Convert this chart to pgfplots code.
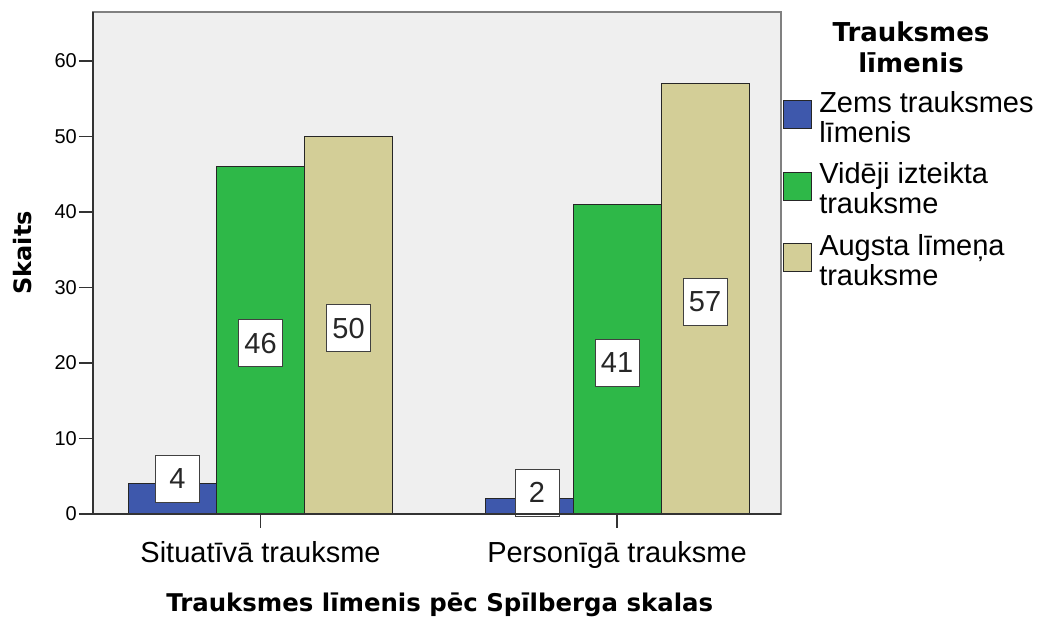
\documentclass[border=0pt]{standalone}
\usepackage{fontspec}
\setmainfont{Liberation Sans}
\newfontfamily\titlefont{DejaVu Sans}
\usepackage{pgfplots}
\usepackage{pgfplotstable}
\pgfplotsset{compat=1.18}

\definecolor{zems}{HTML}{3E58AC}
\definecolor{videji}{HTML}{2EB848}
\definecolor{augsta}{HTML}{D3CE97}
\definecolor{plotbg}{HTML}{EFEFEF}

% x: 0 = Situatīvā, 1 = Personīgā; ly = where the label box sits, lx = small sideways nudge
\pgfplotstableread{
x y ly lx
0 4 4.7 5
1 2 2.8 8
}\tblzems
\pgfplotstableread{
x y ly lx
0 46 22.6 0
1 41 20.0 0
}\tblvideji
\pgfplotstableread{
x y ly lx
0 50 24.6 0
1 57 28.1 0
}\tblaugsta

% square legend boxes
\pgfplotsset{/pgfplots/ybar legend/.style={/pgfplots/legend image code/.code={\draw[##1] (0pt,-11.5pt) rectangle (28pt,16.5pt);}}}

\begin{document}
\begin{tikzpicture}
\begin{axis}[
    name=ax,
    at={(93pt,106pt)}, anchor=south west,
    scale only axis, width=688pt, height=502pt,
    ybar=0pt, bar width=88pt,
    xmin=-0.47, xmax=1.46,
    ymin=0, ymax=66.5,
    xtick={0,1},
    xticklabels={Situatīvā trauksme, Personīgā trauksme},
    ytick={0,10,...,60},
    axis background/.style={fill=plotbg},
    axis line style={draw=gray, line width=2pt},
    tick style={draw=black!80, line width=1.5pt},
    major tick length=14pt, tick align=outside,
    xtick pos=bottom, ytick pos=left,
    /pgf/number format/assume math mode=true,
    yticklabel style={font=\fontsize{20}{20}\selectfont, inner sep=2pt},
    xticklabel style={font=\fontsize{29}{29}\selectfont, yshift=-10pt},
    xlabel={Trauksmes līmenis pēc Spīlberga skalas},
    ylabel={Skaits},
    every axis x label/.style={at={(axis description cs:0.504,-0.181)}, anchor=center,
        font=\titlefont\fontsize{24.4}{24}\selectfont\bfseries},
    every axis y label/.style={at={(axis description cs:-0.1017,0.52)}, anchor=center, rotate=90,
        font=\titlefont\fontsize{24}{24}\selectfont\bfseries},
    legend style={at={(axis description cs:1.003,0.843)}, anchor=north west,
        draw=none, fill=none, inner sep=0pt, column sep=7pt, row sep=19pt,
        font=\fontsize{29}{30}\selectfont,
        nodes={align=left, inner sep=0pt}},
    legend cell align=left,
    nodes near coords={\pgfmathprintnumber{\pgfplotspointmeta}},
    lbl/.style={
        visualization depends on={\thisrow{ly}-\thisrow{y} \as \dy},
        visualization depends on={\thisrow{lx} \as \lx},
        every node near coord/.append style={anchor=center,
            shift={(axis direction cs:0,\dy)}, xshift=\lx pt,
            draw=black!75, fill=white, text=black!85, line width=1pt,
            font=\fontsize{29}{29}\selectfont,
            minimum width=44pt, minimum height=47pt, inner sep=0pt}},
]
\addplot[fill=zems, draw=black!85, line width=1pt, lbl] table[x=x, y=y] {\tblzems};
\addlegendentry{Zems trauksmes\\līmenis}
\addplot[fill=videji, draw=black!85, line width=1pt, lbl] table[x=x, y=y] {\tblvideji};
\addlegendentry{Vidēji izteikta\\trauksme}
\addplot[fill=augsta, draw=black!85, line width=1pt, lbl] table[x=x, y=y] {\tblaugsta};
\addlegendentry{Augsta līmeņa\\trauksme}
\end{axis}
% darker left and bottom axis lines
\draw[draw=black!80, line width=2pt] (ax.north west) -- (ax.south west) -- (ax.south east);
% legend title
\node[anchor=north, align=center, font=\titlefont\fontsize{26}{31}\selectfont\bfseries]
    at ([xshift=130pt,yshift=-6pt]ax.north east) {Trauksmes\\līmenis};
\pgfresetboundingbox
\path (0,0) rectangle (1047pt,620pt);
\end{tikzpicture}
\end{document}
